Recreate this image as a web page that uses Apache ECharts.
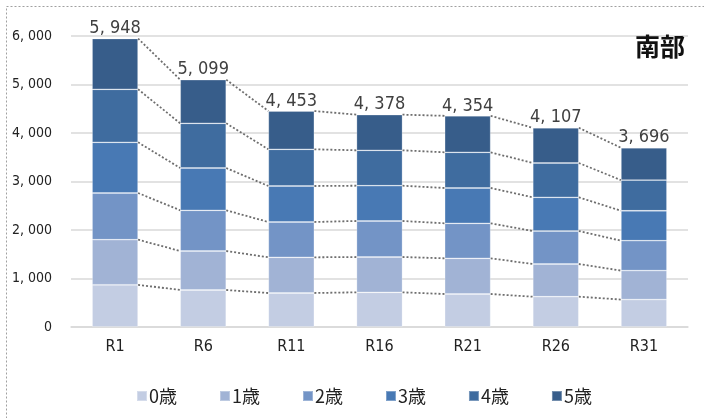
<!DOCTYPE html>
<html>
<head>
<meta charset="utf-8">
<script src="https://cdn.jsdelivr.net/npm/echarts@6/dist/echarts.min.js"></script>
<style>
  html, body { margin: 0; padding: 0; background: #fff; }
  #chart { width: 704px; height: 418px; }
</style>
</head>
<body>
<div id="chart"></div>
<script>
// 年次
const categories = ['R1', 'R6', 'R11', 'R16', 'R21', 'R26', 'R31']
const seriesNames = ['0歳', '1歳', '2歳', '3歳', '4歳', '5歳']
// 年齢別の人数
const age0 = [870, 763, 701, 715, 680, 625, 566]
const age1 = [930, 804, 736, 728, 736, 674, 597]
const age2 = [963, 839, 728, 743, 722, 680, 617]
const age3 = [1045, 872, 742, 727, 728, 695, 617]
const age4 = [1093, 922, 757, 730, 736, 707, 632]
const age5 = [1047, 899, 789, 735, 752, 726, 667]
const totals = [5948, 5099, 4453, 4378, 4354, 4107, 3696]
const yTicks = [0, 1000, 2000, 3000, 4000, 5000, 6000]

const colors = ['#c3cde3', '#a1b3d5', '#7394c6', '#4879b4', '#3f6c9f', '#375d8a']
const FONT = '"DejaVu Sans Condensed", "Noto Sans CJK JP", sans-serif'
const CJK = '"Noto Sans CJK JP", sans-serif'
const BAR_W = 46

const ages = [age0, age1, age2, age3, age4, age5]

function fmt(v) {
  return String(v).replace(/\B(?=(\d{3})+(?!\d))/g, ', ')
}

// 積み上げの上端（区分線用）
const cum = []
ages.forEach((arr, k) => {
  cum.push(arr.map((v, i) => v + (k > 0 ? cum[k - 1][i] : 0)))
})
const lineData = []
cum.forEach(level => {
  for (let i = 0; i < level.length - 1; i++) {
    lineData.push([i, level[i], level[i + 1]])
  }
})

const barSeries = ages.map((arr, k) => ({
  name: seriesNames[k],
  type: 'bar',
  stack: 'total',
  barWidth: BAR_W,
  data: arr,
  itemStyle: {
    color: colors[k],
    borderColor: 'rgba(255,255,255,0.3)',
    borderWidth: 0.8
  },
  label: k === ages.length - 1 ? {
    show: true,
    position: 'top',
    distance: 1,
    color: '#404040',
    fontSize: 18,
    fontFamily: FONT,
    formatter: p => fmt(totals[p.dataIndex])
  } : { show: false },
  z: 3
}))

const chart = echarts.init(document.getElementById('chart'))
chart.setOption({
  animation: false,
  grid: { left: 71, right: 16, top: 36, bottom: 91 },
  title: {
    text: '南部',
    right: 14,
    top: 29,
    textStyle: { fontSize: 25, fontWeight: 'bold', color: '#111', fontFamily: CJK }
  },
  graphic: [{
    type: 'rect',
    shape: { x: 6.5, y: 6.5, width: 710, height: 420 },
    style: { fill: 'none', stroke: '#a0a0a0', lineWidth: 1, lineDash: [2, 2] },
    silent: true
  }],
  legend: {
    data: seriesNames,
    left: 131,
    top: 382,
    itemWidth: 10,
    itemHeight: 10,
    itemGap: 42,
    icon: 'rect',
    textStyle: { fontSize: 18, color: '#222', fontFamily: CJK, width: 40, padding: [0, 0, 0, -3] }
  },
  xAxis: {
    type: 'category',
    data: categories,
    axisTick: { show: false },
    axisLine: { lineStyle: { color: '#d9d9d9', width: 1.5 } },
    axisLabel: { fontSize: 16, color: '#222', margin: 12, fontFamily: FONT }
  },
  yAxis: {
    type: 'value',
    min: yTicks[0],
    max: yTicks[yTicks.length - 1],
    interval: 1000,
    axisLine: { show: false },
    axisTick: { show: false },
    splitLine: { lineStyle: { color: '#d9d9d9', width: 1.5 } },
    axisLabel: { fontSize: 14, color: '#222', margin: 19, fontFamily: FONT, formatter: v => fmt(v) }
  },
  series: barSeries.concat([{
    type: 'custom',
    name: 'lines',
    data: lineData,
    encode: { x: 0, y: 1 },
    z: 2,
    silent: true,
    renderItem: (params, api) => {
      const p1 = api.coord([api.value(0), api.value(1)])
      const p2 = api.coord([api.value(0) + 1, api.value(2)])
      return {
        type: 'line',
        shape: { x1: p1[0] + BAR_W / 2, y1: p1[1], x2: p2[0] - BAR_W / 2, y2: p2[1] },
        style: { stroke: '#6e6e6e', lineWidth: 1.8, lineDash: [2, 2] }
      }
    }
  }])
})
</script>
</body>
</html>
